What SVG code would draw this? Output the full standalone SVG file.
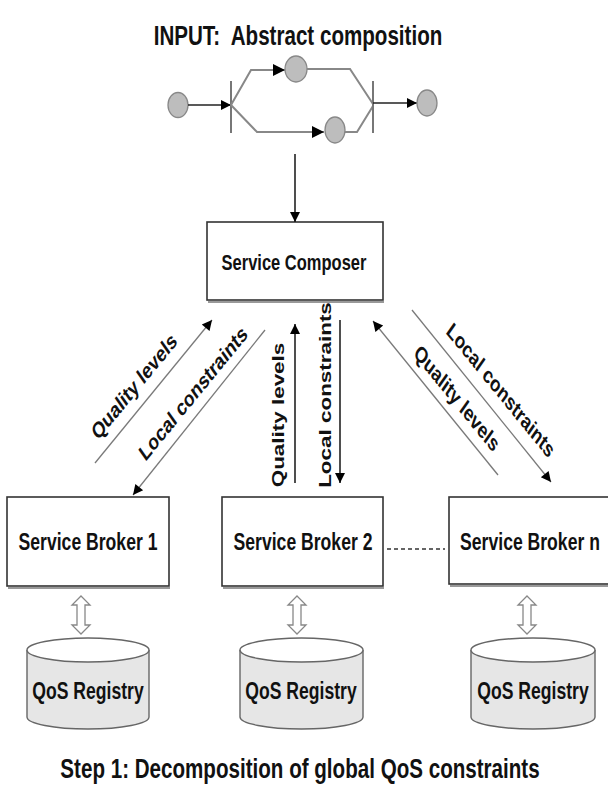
<svg xmlns="http://www.w3.org/2000/svg" width="608" height="791" viewBox="0 0 608 791">
<style>
text{font-family:"Liberation Sans",Arial,sans-serif;font-weight:bold;fill:#111;}
.lbl{font-size:17.6px;text-anchor:middle;}
.rot{font-size:17px;text-anchor:middle;}
.big{font-size:20.6px;text-anchor:middle;}
.box{fill:#fff;stroke:#333;stroke-width:1.6;}
.shadow{fill:none;stroke:#999;stroke-width:2;}
.cyl{fill:#e6e6e6;stroke:#666;stroke-width:1.4;}
.cyltop{fill:#fff;stroke:#666;stroke-width:1.4;}
.dbl{fill:#fff;stroke:#888;stroke-width:1.3;}
.glink{fill:none;stroke:#888;stroke-width:2;}
.node{fill:#bdbdbd;stroke:#888;stroke-width:1.3;}
.dark{fill:none;stroke:#222;stroke-width:1.6;}
.diag{fill:none;stroke:#7a7a7a;stroke-width:1.3;}
.bar{fill:none;stroke:#777;stroke-width:2;}
</style>
<defs>
<marker id="ah" viewBox="0 0 10 10" refX="10" refY="5" markerWidth="12" markerHeight="10" markerUnits="userSpaceOnUse" orient="auto"><path d="M0,0 L10,5 L0,10 z" fill="#000"/></marker>
</defs>

<g id="title"><text class="big" transform="translate(298,45) scale(1,1.32)">INPUT:&#160; Abstract composition</text></g>

<g id="abstract-composition">
<ellipse class="node" cx="178" cy="105" rx="10" ry="12.5"/>
<line class="dark" x1="188" y1="105" x2="231" y2="105" marker-end="url(#ah)"/>
<line class="bar" x1="231" y1="81" x2="231" y2="133"/>
<polyline class="glink" points="231,105 251,70 285,70"/>
<path d="M273,64 L285,70 L273,76 z" fill="#000"/>
<ellipse class="node" cx="296" cy="69" rx="11" ry="13"/>
<polyline class="glink" points="307,69 350,69 373,104"/>
<polyline class="glink" points="231,105 257,132 324,132"/>
<path d="M312,126 L324,132 L312,138 z" fill="#000"/>
<ellipse class="node" cx="335" cy="130" rx="10" ry="13"/>
<polyline class="glink" points="345,132 357,132 373,106"/>
<line class="bar" x1="373" y1="81" x2="373" y2="133"/>
<line class="dark" x1="373" y1="103" x2="417" y2="103" marker-end="url(#ah)"/>
<ellipse class="node" cx="427" cy="103" rx="10" ry="13"/>
</g>

<g id="service-composer">
<line class="shadow" x1="208" y1="302" x2="384" y2="302"/>
<rect class="box" x="207" y="222" width="176" height="78"/>
<text class="lbl" style="font-size:16.5px" transform="translate(294,270) scale(1,1.32)">Service Composer</text>
</g>

<g id="broker-1">
<line class="shadow" x1="8" y1="588" x2="170" y2="588"/>
<rect class="box" x="7" y="497" width="162" height="89"/>
<text class="lbl" transform="translate(88,550) scale(1,1.32)">Service Broker 1</text>
</g>
<g id="broker-2">
<line class="shadow" x1="223" y1="588" x2="384" y2="588"/>
<rect class="box" x="222" y="497" width="161" height="89"/>
<text class="lbl" transform="translate(303,550) scale(1,1.32)">Service Broker 2</text>
</g>
<g id="broker-n">
<line class="shadow" x1="450" y1="586" x2="610" y2="586"/>
<rect class="box" x="449" y="497" width="170" height="87"/>
<text class="lbl" transform="translate(530,550) scale(1,1.32)">Service Broker n</text>
</g>

<g id="registry-1">
<path class="cyl" d="M27,650 V717 A61,12 0 0 0 149,717 V650"/>
<ellipse class="cyltop" cx="88" cy="650" rx="61" ry="12"/>
<text class="lbl" transform="translate(88,699) scale(1,1.32)">QoS Registry</text>
</g>
<g id="registry-2">
<path class="cyl" d="M240,650 V717 A61.5,12 0 0 0 363,717 V650"/>
<ellipse class="cyltop" cx="301.5" cy="650" rx="61.5" ry="12"/>
<text class="lbl" transform="translate(301,699) scale(1,1.32)">QoS Registry</text>
</g>
<g id="registry-n">
<path class="cyl" d="M471,650 V717 A62,12 0 0 0 595,717 V650"/>
<ellipse class="cyltop" cx="533" cy="650" rx="62" ry="12"/>
<text class="lbl" transform="translate(533,699) scale(1,1.32)">QoS Registry</text>
</g>

<g id="connectors">
<line class="dark" x1="295" y1="154" x2="295" y2="222" marker-end="url(#ah)"/>
<line class="diag" x1="95" y1="463" x2="212" y2="320" marker-end="url(#ah)"/>
<line class="diag" x1="265" y1="330" x2="133" y2="495" marker-end="url(#ah)"/>
<line class="dark" x1="295" y1="483" x2="295" y2="324" marker-end="url(#ah)"/>
<line class="dark" x1="340" y1="320" x2="340" y2="483" marker-end="url(#ah)"/>
<line class="diag" x1="498" y1="475" x2="373" y2="321" marker-end="url(#ah)"/>
<line class="diag" x1="412" y1="310" x2="551" y2="482" marker-end="url(#ah)"/>
<line x1="387" y1="549" x2="445" y2="549" stroke="#333" stroke-width="1.4" stroke-dasharray="4,3"/>
<path class="dbl" d="M81,596 L90,605 L85,605 L85,625 L90,625 L81,634 L72,625 L77,625 L77,605 L72,605 Z"/>
<path class="dbl" d="M297,596 L306,605 L301,605 L301,625 L306,625 L297,634 L288,625 L293,625 L293,605 L288,605 Z"/>
<path class="dbl" d="M527,596 L536,605 L531,605 L531,625 L536,625 L527,634 L518,625 L523,625 L523,605 L518,605 Z"/>
<text class="rot" transform="translate(134,386) scale(1,1.32) rotate(-42.8)" y="6">Quality levels</text>
<text class="rot" transform="translate(193,393) scale(1,1.32) rotate(-42.8)" y="6">Local constraints</text>
<text class="rot" transform="translate(278,415) scale(1,1.32) rotate(-90)" y="6">Quality levels</text>
<text class="rot" transform="translate(325,395) scale(1,1.32) rotate(-90)" y="6">Local constraints</text>
<text class="rot" transform="translate(501,390) scale(1,1.32) rotate(42.8)" y="6">Local constraints</text>
<text class="rot" transform="translate(457,398) scale(1,1.32) rotate(42.8)" y="6">Quality levels</text>
</g>

<g id="caption"><text class="big" transform="translate(300,778) scale(1,1.32)">Step 1: Decomposition of global QoS constraints</text></g>
</svg>
